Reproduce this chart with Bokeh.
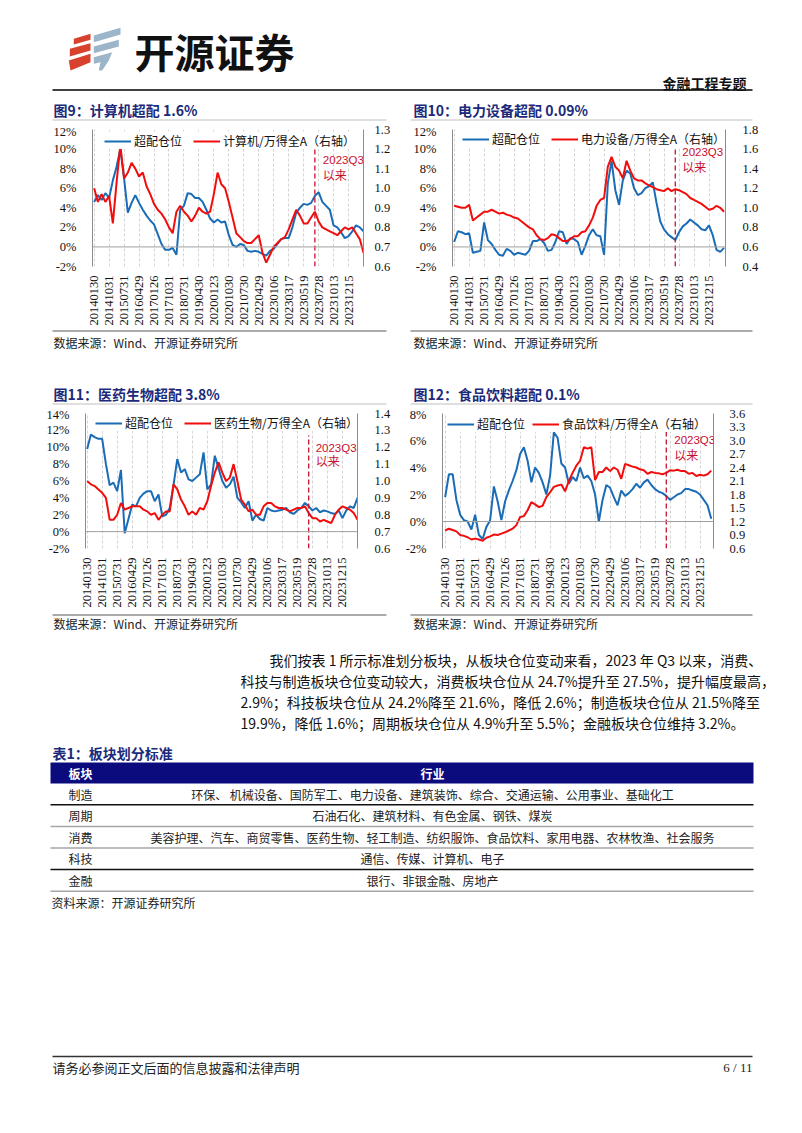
import math
from bokeh.plotting import figure
from bokeh.models import (Range1d, LinearAxis, FixedTicker, PrintfTickFormatter,
                          Legend, LegendItem, Label, Span)
from bokeh.layouts import column, row
from bokeh.embed import file_html
from bokeh.resources import INLINE

# ---------------- data ----------------
DATE_LABELS = ["20140130", "20141031", "20150731", "20160429", "20170126", "20171031",
               "20180731", "20190430", "20200123", "20201030", "20210730", "20220429",
               "20230106", "20230317", "20230519", "20230728", "20231013", "20231215"]
LABEL_STEP = 4      # samples between two date labels
Q3_POS = 59         # sample position of 2023-07-01

# 图9 计算机
C9_OVERWEIGHT = [4.6, 5.3, 4.8, 5.5, 5.0, 6.8, 8.2, 10.0, 7.0, 3.5,
                 4.5, 5.3, 4.5, 3.8, 3.2, 2.7, 2.3, 1.3, 0.3, -0.3,
                 -0.3, -0.1, -0.8, 3.8, 4.2, 5.5, 5.4, 5.0, 5.0, 4.6,
                 3.8, 2.9, 2.5, 2.8, 2.5, 2.6, 1.2, 0.2, 0.0, 0.3,
                 0.2, -0.4, -0.5, -0.4, -0.5, -0.7, -0.9, -0.4, -0.2, 0.3,
                 0.8, 0.9, 0.9, 2.0, 3.5, 4.0, 4.4, 4.3, 4.5, 5.2,
                 5.6, 4.6, 4.2, 3.8, 2.2, 2.0, 1.5, 0.9, 1.1, 1.6,
                 2.2, 2.0, 1.6]
C9_RELATIVE = [1.00, 0.93, 0.97, 0.93, 0.96, 0.82, 1.03, 1.22, 1.05, 1.08,
               1.13, 1.10, 1.06, 1.08, 1.01, 0.97, 0.92, 0.89, 0.87, 0.84,
               0.80, 0.77, 0.88, 0.91, 0.88, 0.86, 0.83, 0.86, 0.90, 0.88,
               0.87, 0.88, 0.97, 1.08, 1.02, 1.00, 0.93, 0.85, 0.77, 0.75,
               0.73, 0.72, 0.72, 0.74, 0.76, 0.67, 0.62, 0.66, 0.70, 0.72,
               0.74, 0.75, 0.79, 0.84, 0.89, 0.86, 0.82, 0.82, 0.85, 0.88,
               0.83, 0.80, 0.79, 0.78, 0.77, 0.76, 0.78, 0.80, 0.79, 0.80,
               0.77, 0.74, 0.67]

# 图10 电力设备
C10_OVERWEIGHT = [0.5, 1.6, 1.5, 1.3, 1.4, -0.6, -0.5, -0.4, 2.5, 0.7,
                  0.3, -0.3, -0.8, -0.9, -0.2, -0.4, -0.8, -0.6, -0.7, -0.8,
                  -0.4, 0.6, 0.6, 0.8, 0.4, -0.4, -0.3, 0.5, 1.6, 1.5,
                  0.3, 0.9, 0.8, 0.5, -0.8, 0.1, 1.2, 1.8, 1.2, 1.1,
                  -0.8, 6.5, 8.8, 5.8, 4.3, 6.8, 7.8, 7.5, 6.0, 5.3,
                  5.5, 6.0, 6.2, 6.6, 4.5, 2.6, 1.8, 1.3, 1.0, 0.7,
                  1.5, 2.1, 2.4, 2.8, 2.5, 2.2, 1.8, 1.7, 2.2, 1.2,
                  -0.3, -0.5, -0.1]
C10_RELATIVE = [1.02, 1.01, 1.00, 1.00, 1.03, 0.87, 0.90, 0.93, 0.96, 0.96,
                0.98, 0.96, 0.94, 0.95, 0.93, 0.92, 0.90, 0.89, 0.86, 0.83,
                0.80, 0.78, 0.72, 0.68, 0.67, 0.69, 0.73, 0.72, 0.69, 0.66,
                0.66, 0.68, 0.71, 0.71, 0.75, 0.76, 0.82, 0.90, 1.02, 1.08,
                1.10, 1.42, 1.52, 1.42, 1.38, 1.30, 1.48, 1.38, 1.30, 1.28,
                1.28, 1.25, 1.23, 1.21, 1.19, 1.18, 1.17, 1.20, 1.17, 1.19,
                1.18, 1.16, 1.14, 1.10, 1.08, 1.06, 1.04, 1.01, 0.98, 0.99,
                1.02, 1.00, 0.96]

# 图11 医药生物
C11_OVERWEIGHT = [9.8, 11.5, 11.2, 11.0, 11.0, 8.0, 5.5, 5.8, 4.8, 7.3,
                  -0.2, 1.5, 3.2, 3.0, 4.0, 4.5, 4.8, 4.8, 3.6, 4.4,
                  1.8, 2.0, 2.8, 5.5, 8.6, 7.0, 7.4, 6.2, 6.0, 6.4,
                  6.8, 9.4, 5.0, 5.6, 9.0, 7.5, 6.0, 5.2, 5.6, 6.5,
                  4.0, 3.5, 2.8, 3.6, 1.3, 2.0, 1.5, 1.3, 2.8, 2.5,
                  2.4, 2.5, 2.6, 2.8, 2.3, 2.1, 2.5, 2.8, 3.4, 3.0,
                  2.5, 2.8, 2.3, 2.5, 2.4, 2.2, 2.1, 2.5, 1.6, 2.5,
                  3.0, 2.8, 4.0]
C11_RELATIVE = [1.00, 0.98, 0.97, 0.95, 0.93, 0.90, 0.77, 0.77, 0.80, 0.87,
                0.83, 0.84, 0.85, 0.85, 0.85, 0.83, 0.82, 0.80, 0.81, 0.77,
                0.80, 0.82, 0.82, 0.98, 0.95, 0.89, 0.85, 0.80, 0.82, 0.80,
                0.84, 0.83, 0.88, 0.97, 1.05, 1.11, 1.05, 1.00, 1.02, 1.10,
                1.00, 0.89, 0.86, 0.82, 0.83, 0.80, 0.80, 0.85, 0.87, 0.87,
                0.85, 0.84, 0.84, 0.83, 0.82, 0.83, 0.84, 0.84, 0.85, 0.81,
                0.78, 0.78, 0.76, 0.77, 0.76, 0.75, 0.80, 0.83, 0.85, 0.84,
                0.83, 0.81, 0.77]

# 图12 食品饮料
C12_OVERWEIGHT = [1.8, 3.5, 3.5, 1.6, 0.5, 0.1, 0.0, -0.6, 0.5, -1.0,
                  -1.3, -0.4, 0.1, 2.6, 1.5, 0.1, 1.5, 2.3, 3.0, 3.8,
                  5.0, 5.5, 4.5, 2.9, 4.0, 3.6, 2.9, 2.0, 3.4, 6.6,
                  6.2, 4.3, 4.0, 2.8, 3.3, 3.0, 4.0, 3.2, 3.4, 3.0,
                  2.0, 0.0, 1.6, 2.7, 2.5, 1.8, 1.2, 2.3, 1.9, 2.1,
                  2.4, 2.8, 2.5, 2.9, 3.1, 2.7, 2.4, 2.2, 2.1, 1.9,
                  1.6, 1.8, 2.0, 2.1, 2.4, 2.4, 2.3, 2.2, 2.0, 1.6,
                  1.2, 0.2]
C12_RELATIVE = [1.00, 1.04, 1.01, 0.98, 0.90, 0.88, 0.85, 0.80, 0.82, 0.80,
                0.77, 0.84, 0.87, 0.91, 0.90, 0.93, 0.96, 1.00, 1.04, 1.12,
                1.30, 1.32, 1.45, 1.63, 1.58, 1.52, 1.55, 1.74, 1.85, 1.97,
                2.00, 2.02, 1.87, 2.10, 2.28, 2.44, 2.55, 2.85, 2.82, 2.85,
                2.12, 2.30, 2.30, 2.40, 2.32, 2.40, 2.35, 2.15, 2.48, 2.45,
                2.42, 2.40, 2.36, 2.34, 2.26, 2.30, 2.28, 2.27, 2.25, 2.28,
                2.34, 2.33, 2.35, 2.32, 2.32, 2.26, 2.28, 2.21, 2.24, 2.22,
                2.25, 2.33]

SECTORS = ["制造", "周期", "消费", "科技", "金融"]
INDUSTRIES = [
    "环保、 机械设备、国防军工、电力设备、建筑装饰、综合、交通运输、公用事业、基础化工",
    "石油石化、建筑材料、有色金属、钢铁、煤炭",
    "美容护理、汽车、商贸零售、医药生物、轻工制造、纺织服饰、食品饮料、家用电器、农林牧渔、社会服务",
    "通信、传媒、计算机、电子",
    "银行、非银金融、房地产",
]
PARAGRAPH = [
    "我们按表 1 所示标准划分板块，从板块仓位变动来看，2023 年 Q3 以来，消费、",
    "科技与制造板块仓位变动较大，消费板块仓位从 24.7%提升至 27.5%，提升幅度最高，",
    "2.9%；科技板块仓位从 24.2%降至 21.6%，降低 2.6%；制造板块仓位从 21.5%降至",
    "19.9%，降低 1.6%；周期板块仓位从 4.9%升至 5.5%；金融板块仓位维持 3.2%。",
]

# ---------------- style ----------------
CJK = "Noto Sans CJK SC"
SERIF = "Liberation Serif"
BLUE = "#1A6CB6"
RED = "#F20D0D"
TITLE_NAVY = "#1B2A7A"
BAR_NAVY = "#0B0B7E"
Q3_RED = "#C8102E"
AXIS_GRAY = "#8C8C8C"
PAGE_W = 802


def make_chart(pos, rel, rel_label, yl, yr, yr_ticks, xr, borders, frame,
               r_standoff, legend_x, legend_drop, legend_gap, q3_top, note_y, note_dx):
    lb, rb_, tb, bb = borders
    fw, fh = frame
    p = figure(width=lb + fw + rb_, height=tb + fh + bb,
               x_range=Range1d(*xr), y_range=Range1d(*yl),
               toolbar_location=None, output_backend="svg",
               min_border_left=lb, min_border_right=rb_,
               min_border_top=tb, min_border_bottom=bb)
    p.outline_line_color = None
    p.background_fill_color = "white"
    p.border_fill_color = "white"

    ticks = [LABEL_STEP * k for k in range(len(DATE_LABELS))]
    xa = p.xaxis[0]
    xa.ticker = FixedTicker(ticks=ticks)
    xa.major_label_overrides = {t: d for t, d in zip(ticks, DATE_LABELS)}
    xa.axis_line_color = None
    xa.major_tick_line_color = None
    xa.minor_tick_line_color = None
    xa.major_label_orientation = math.pi / 2
    xa.major_label_text_font = SERIF
    xa.major_label_text_font_size = "12.5px"
    xa.major_label_text_color = "#111111"
    xa.major_label_standoff = 3

    ya = p.yaxis[0]
    ya.ticker = FixedTicker(ticks=list(range(yl[0], yl[1] + 1, 2)))
    ya.formatter = PrintfTickFormatter(format="%d%%")
    ya.axis_line_color = AXIS_GRAY
    ya.major_tick_line_color = None
    ya.minor_tick_line_color = None
    ya.major_label_text_font = SERIF
    ya.major_label_text_font_size = "12.5px"
    ya.major_label_text_color = "#111111"
    ya.major_label_standoff = 10

    p.extra_y_ranges = {"r": Range1d(*yr)}
    ra = LinearAxis(y_range_name="r", ticker=FixedTicker(ticks=yr_ticks),
                    formatter=PrintfTickFormatter(format="%.1f"))
    ra.axis_line_color = AXIS_GRAY
    ra.major_tick_line_color = None
    ra.minor_tick_line_color = None
    ra.major_label_text_font = SERIF
    ra.major_label_text_font_size = "12.5px"
    ra.major_label_text_color = "#111111"
    ra.major_label_standoff = r_standoff
    p.add_layout(ra, "right")

    p.xgrid.ticker = FixedTicker(ticks=ticks)
    p.xgrid.grid_line_color = "#D4D4D4"
    p.xgrid.grid_line_dash = "3 2"
    p.ygrid.grid_line_color = None

    p.add_layout(Span(location=0, dimension="width", line_color="#A0A0A0", line_width=1))

    xs_pos = list(range(len(pos)))
    xs_rel = list(range(len(rel)))
    r_blue = p.line(xs_pos, pos, line_color=BLUE, line_width=2)
    r_red = p.line(xs_rel, rel, line_color=RED, line_width=2, y_range_name="r")

    p.segment(x0=[Q3_POS], y0=[yl[0]], x1=[Q3_POS], y1=[q3_top],
              line_color=Q3_RED, line_width=1.3, line_dash="5 3")
    p.add_layout(Label(x=Q3_POS, y=note_y[0], x_offset=note_dx, text="2023Q3",
                       text_font="Liberation Sans", text_font_size="11.5px",
                       text_color=Q3_RED, text_baseline="middle"))
    p.add_layout(Label(x=Q3_POS, y=note_y[1], x_offset=note_dx, text="以来",
                       text_font=CJK, text_font_size="12px",
                       text_color=Q3_RED, text_baseline="middle"))

    leg = Legend(items=[LegendItem(label="超配仓位", renderers=[r_blue]),
                        LegendItem(label=rel_label, renderers=[r_red])],
                 orientation="horizontal", location=(legend_x, fh - legend_drop))
    leg.background_fill_color = "white"
    leg.background_fill_alpha = 1.0
    leg.border_line_color = None
    leg.label_text_font = CJK
    leg.label_text_font_size = "12px"
    leg.label_text_color = "#111111"
    leg.glyph_width = 27
    leg.glyph_height = 12
    leg.label_height = 12
    leg.label_standoff = 3
    leg.spacing = legend_gap
    leg.padding = 1
    leg.margin = 0
    p.add_layout(leg)
    return p


def page_fig(y_top, y_bot):
    p = figure(width=PAGE_W, height=y_bot - y_top, x_range=Range1d(0, PAGE_W),
               y_range=Range1d(y_bot, y_top),
               x_axis_type=None, y_axis_type=None, toolbar_location=None,
               output_backend="svg", min_border=0)
    p.outline_line_color = None
    p.grid.visible = False
    return p


def txt(p, x, y, s, size, color="#111111", bold=False, align="left", font=CJK):
    p.add_layout(Label(x=x, y=y, text=s, text_font=font, text_font_size=f"{size}px",
                       text_color=color, text_font_style="bold" if bold else "normal",
                       text_align=align, text_baseline="middle"))


def hline(p, x0, x1, y, color, w):
    p.segment(x0=[x0], y0=[y], x1=[x1], y1=[y], line_color=color, line_width=w)


# ---------------- header (page y 0-124) ----------------
hdr = page_fig(0, 124)
logo_red = [[(73.3, 38.3), (90, 33.3), (90, 39.3), (73.3, 44)],
            [(69.3, 48.3), (90, 42.7), (90, 50), (69.3, 56)],
            [(68.3, 60), (90, 53.3), (90, 61.7), (70, 70)]]
logo_blue = [[(93.3, 35), (120, 27.3), (120, 34), (93.3, 41.7)],
             [(93.3, 46), (118.3, 39.3), (118.3, 46), (93.3, 52.7)],
             [(93.3, 56.7), (111.7, 51.7), (108.3, 60), (101.7, 70), (98.3, 70), (100, 61.7), (93.3, 63.3)]]
shapes = logo_red + logo_blue
hdr.patches(xs=[[pt[0] for pt in s] for s in shapes], ys=[[pt[1] for pt in s] for s in shapes],
            fill_color=["#D9412F"] * 3 + ["#9CB5C9"] * 3, line_color=None)
txt(hdr, 134, 50, "开源证券", 40, "#111111", bold=True)
txt(hdr, 746, 82, "金融工程专题", 14, "#111111", bold=True, align="right")
hline(hdr, 52, 752, 89.5, "#404040", 2)
txt(hdr, 53, 109, "图9：计算机超配 1.6%", 14, TITLE_NAVY, bold=True)
txt(hdr, 413, 109, "图10：电力设备超配 0.09%", 14, TITLE_NAVY, bold=True)
hline(hdr, 52, 386, 119.5, "#BFBFBF", 1)
hline(hdr, 410, 752, 119.5, "#BFBFBF", 1)

# ---------------- charts row 1 (page y 124-328) ----------------
c9 = make_chart(C9_OVERWEIGHT, C9_RELATIVE, "计算机/万得全A（右轴）",
                (-2, 12), (0.6, 1.3), [round(0.6 + 0.1 * i, 2) for i in range(8)],
                (-0.44, 72.0), (92, 38, 5, 59), (271, 140), 5, 12, 23, 11, 10.2, (8.9, 7.4), 8)
c10 = make_chart(C10_OVERWEIGHT, C10_RELATIVE, "电力设备/万得全A（右轴）",
                 (-2, 12), (0.4, 1.8), [round(0.4 + 0.2 * i, 2) for i in range(8)],
                 (-0.44, 72.4), (51, 77, 4, 58), (273, 142), 11, 10, 23, 11, 11.0, (9.7, 8.25), 7)

# ---------------- middle strip (page y 328-407) ----------------
mid = page_fig(328, 407)
hline(mid, 52, 386, 330.5, "#595959", 1.2)
hline(mid, 410, 752, 330.5, "#595959", 1.2)
txt(mid, 53, 342, "数据来源：Wind、开源证券研究所", 12, "#222222")
txt(mid, 413, 342, "数据来源：Wind、开源证券研究所", 12, "#222222")
txt(mid, 53, 393, "图11：医药生物超配 3.8%", 14, TITLE_NAVY, bold=True)
txt(mid, 413, 393, "图12：食品饮料超配 0.1%", 14, TITLE_NAVY, bold=True)
hline(mid, 52, 386, 403.5, "#BFBFBF", 1)
hline(mid, 410, 752, 403.5, "#BFBFBF", 1)

# ---------------- charts row 2 (page y 407-610) ----------------
c11 = make_chart(C11_OVERWEIGHT, C11_RELATIVE, "医药生物/万得全A（右轴）",
                 (-2, 14), (0.6, 1.4), [round(0.6 + 0.1 * i, 2) for i in range(9)],
                 (-0.44, 72.0), (85, 44, 5, 55), (272, 143), 11, 10, 26, 11, 11.4, (9.97, 8.4), 7)
c12 = make_chart(C12_OVERWEIGHT, C12_RELATIVE, "食品饮料/万得全A（右轴）",
                 (-2, 8), (0.6, 3.6), [round(0.6 + 0.3 * i, 2) for i in range(11)],
                 (-0.71, 71.6), (41, 89, 6, 55), (271, 142), 10, 5, 26, 7, 6.9, (6.03, 4.97), 8)

# ---------------- bottom part (page y 610-1128) ----------------
bot = page_fig(610, 1128)
hline(bot, 52, 386, 614.5, "#595959", 1.2)
hline(bot, 410, 752, 614.5, "#595959", 1.2)
txt(bot, 53, 623, "数据来源：Wind、开源证券研究所", 12, "#222222")
txt(bot, 413, 623, "数据来源：Wind、开源证券研究所", 12, "#222222")

for i, line in enumerate(PARAGRAPH):
    txt(bot, 269 if i == 0 else 240, 659 + i * 21.2, line, 14, "#111111")

txt(bot, 52, 752, "表1：板块划分标准", 14, TITLE_NAVY, bold=True)
bot.quad(left=[50], right=[753], top=[762], bottom=[783], fill_color=BAR_NAVY, line_color=None)
txt(bot, 68, 772.5, "板块", 12, "white", bold=True)
txt(bot, 432, 772.5, "行业", 12, "white", bold=True, align="center")
row_line_colors = ["#111111", "#A6A6A6", "#A6A6A6", "#111111", "#A6A6A6"]
for i, (sec, ind) in enumerate(zip(SECTORS, INDUSTRIES)):
    yc = 793.5 + i * 21.6
    txt(bot, 68, yc, sec, 12, "#222222")
    txt(bot, 432, yc, ind, 12, "#222222", align="center")
    hline(bot, 50, 753, yc + 10.8, row_line_colors[i], 1.5)
txt(bot, 51, 902, "资料来源：开源证券研究所", 12, "#222222")

hline(bot, 52, 752, 1056, "#333333", 1.5)
txt(bot, 52, 1066.5, "请务必参阅正文后面的信息披露和法律声明", 13, "#222222")
txt(bot, 752, 1066.5, "6 / 11", 13, "#222222", align="right", font=SERIF)

layout = column(hdr, row(c9, c10), mid, row(c11, c12), bot)
open("out.html", "w").write(file_html(layout, INLINE))
